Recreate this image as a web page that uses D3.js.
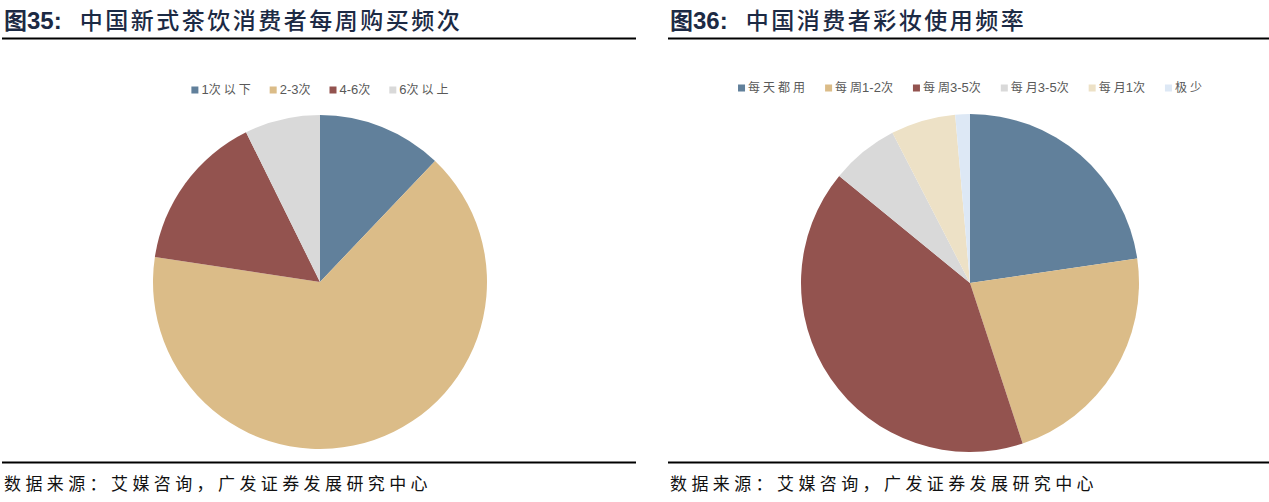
<html>
<head>
<script src="https://d3js.org/d3.v7.min.js"></script>
<style>
  body { margin: 0; background: #fff; }
  svg { display: block; }
</style>
</head>
<body>
<div id="chart"></div>
<script>
// left chart: weekly purchase frequency of new-style tea drinks
const teaLabels = ['1次以下', '2-3次', '4-6次', '6次以上'];
const teaValues = [12.1, 65.3, 15.3, 7.3];
const teaColors = ['#61809b', '#dbbc88', '#93534f', '#d9d9d9'];

// right chart: makeup usage frequency
const makeupLabels = ['每天都用', '每周1-2次', '每周3-5次', '每月3-5次', '每月1次', '极少'];
const makeupValues = [22.7, 22.3, 41.0, 6.5, 6.2, 1.4];
const makeupColors = ['#61809b', '#dbbc88', '#93534f', '#d9d9d9', '#ede1c6', '#dde8f5'];

const titles = ['图35：中国新式茶饮消费者每周购买频次', '图36：中国消费者彩妆使用频率'];
const source = '数据来源：艾媒咨询，广发证券发展研究中心';

const W = 1269, H = 502;
const svg = d3.select('#chart').append('svg')
  .attr('width', W).attr('height', H);

const panels = [
  { x0: 2, x1: 636, cx: 320, cy: 282, r: 167, legY: 90, gap: 19, labels: teaLabels, values: teaValues, colors: teaColors, title: titles[0] },
  { x0: 668, x1: 1269, cx: 970, cy: 283, r: 169, legY: 88, gap: 20, labels: makeupLabels, values: makeupValues, colors: makeupColors, title: titles[1] }
];

const pie = d3.pie().sort(null).value(d => d);
const isCJK = c => /[\u4e00-\u9fff]/.test(c);

panels.forEach(p => {
  const g = svg.append('g');

  // title: figure number in bold latin, rest in CJK
  const m = p.title.match(/^(图)(\d+：)(.*)$/);
  const t = g.append('text')
    .attr('x', p.x0 + 2).attr('y', 29)
    .attr('fill', '#1c2a44')
    .style('font-size', '23px');
  t.append('tspan').text(m[1])
    .style('font-family', '"Noto Sans CJK SC"').style('font-weight', 700);
  t.append('tspan').text(m[2].replace('：', ':'))
    .style('font-family', 'Arial, "Liberation Sans"').style('font-weight', 700)
    .style('font-size', '24px');
  t.append('tspan').attr('dx', 18).text(m[3])
    .style('font-family', '"Noto Sans CJK SC"').style('font-weight', 500)
    .style('letter-spacing', '2.5px');

  g.append('line')
    .attr('x1', p.x0).attr('x2', p.x1).attr('y1', 38.5).attr('y2', 38.5)
    .attr('stroke', '#000').attr('stroke-width', 2);

  g.append('line')
    .attr('x1', p.x0).attr('x2', p.x1).attr('y1', 462.5).attr('y2', 462.5)
    .attr('stroke', '#000').attr('stroke-width', 2);

  g.append('text')
    .attr('x', p.x0 + 2).attr('y', 490)
    .attr('fill', '#111')
    .style('font-family', '"Noto Sans CJK SC"')
    .style('font-size', '17px')
    .style('letter-spacing', '4.4px')
    .text(source);

  // pie
  const arc = d3.arc().innerRadius(0).outerRadius(p.r);
  g.append('g')
    .attr('transform', `translate(${p.cx},${p.cy})`)
    .selectAll('path')
    .data(pie(p.values))
    .join('path')
    .attr('d', arc)
    .attr('fill', (d, i) => p.colors[i]);

  // legend, centred over the pie; CJK glyphs spaced out, digits tight
  const leg = g.append('g');
  const items = leg.selectAll('g.item')
    .data(p.labels)
    .join('g').attr('class', 'item');
  items.append('rect')
    .attr('width', 7).attr('height', 7)
    .attr('y', -3.5)
    .attr('fill', (d, i) => p.colors[i]);
  items.append('text')
    .attr('x', 10).attr('dy', '0.35em')
    .attr('fill', '#595959')
    .style('font-size', '12px')
    .each(function (d) {
      const tx = d3.select(this);
      const chars = Array.from(d);
      chars.forEach((c, i) => {
        const cjk = isCJK(c);
        const next = chars[i + 1];
        const spaced = cjk && next !== undefined && isCJK(next);
        tx.append('tspan').text(c)
          .style('letter-spacing', spaced ? '3px' : '0px')
          .style('font-family', cjk ? '"Noto Sans CJK SC"' : 'Arial, "Liberation Sans"')
          .style('font-size', cjk ? '12px' : '13px');
      });
    });

  let xpos = 0;
  items.each(function () {
    const w = d3.select(this).select('text').node().getComputedTextLength();
    d3.select(this).attr('transform', `translate(${xpos},0)`);
    xpos += 10 + w + p.gap;
  });
  const total = xpos - p.gap;
  leg.attr('transform', `translate(${p.cx - total / 2},${p.legY})`);
});
</script>
</body>
</html>
